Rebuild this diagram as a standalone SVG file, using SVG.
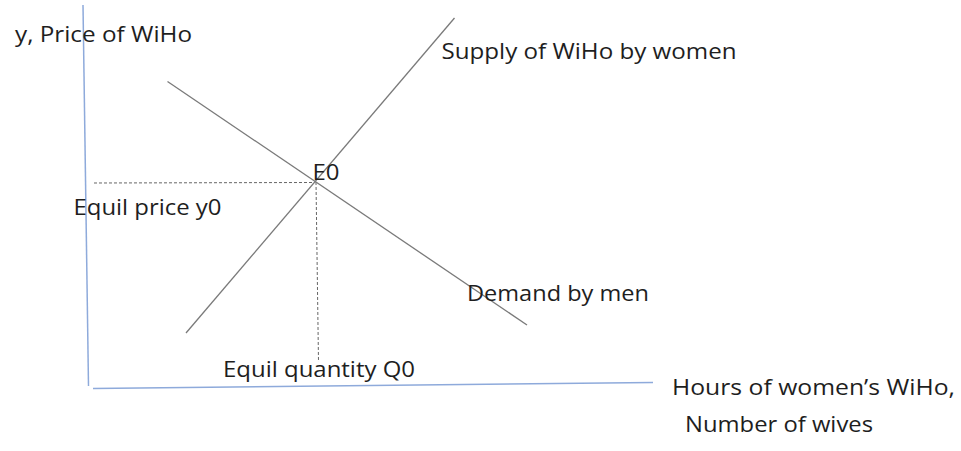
<svg xmlns="http://www.w3.org/2000/svg" width="961" height="451" viewBox="0 0 961 451">
<style>
.axis{stroke:#8eaadb;stroke-width:1.5;fill:none}
.curve{stroke:#7a7a7a;stroke-width:1.3;fill:none}
.dash{stroke:#666;stroke-width:1;stroke-dasharray:3 2;fill:none}
text{font-family:"Open Sans","DejaVu Sans",sans-serif;font-size:22px;fill:#1e1e1e}
</style>
<rect width="961" height="451" fill="#fff"/>
<g id="connectors">
<line class="axis" x1="83" y1="5" x2="88.5" y2="386"/>
<line class="axis" x1="93" y1="388.5" x2="653" y2="382.5"/>
<line class="dash" x1="94" y1="183" x2="312" y2="182.5"/>
<line class="dash" x1="316" y1="182" x2="318.5" y2="362"/>
</g>
<g id="supply">
<line class="curve" x1="186" y1="333" x2="454.5" y2="18"/>
<text x="441.5" y="59" textLength="295" lengthAdjust="spacingAndGlyphs">Supply of WiHo by women</text>
</g>
<g id="demand">
<line class="curve" x1="167.5" y1="81.5" x2="527" y2="325"/>
<text x="467" y="301" textLength="182" lengthAdjust="spacingAndGlyphs">Demand by men</text>
</g>
<g id="e0">
<text x="312.5" y="180" textLength="27" lengthAdjust="spacingAndGlyphs">E0</text>
</g>
<g id="y-label">
<text x="15" y="41.5" textLength="177" lengthAdjust="spacingAndGlyphs">y, Price of WiHo</text>
</g>
<g id="price-label">
<text x="73.5" y="215" textLength="148" lengthAdjust="spacingAndGlyphs">Equil price y0</text>
</g>
<g id="quantity-label">
<text x="223" y="377" textLength="192" lengthAdjust="spacingAndGlyphs">Equil quantity Q0</text>
</g>
<g id="x-label">
<text x="672" y="395" textLength="283" lengthAdjust="spacingAndGlyphs">Hours of women’s WiHo,</text>
<text x="685" y="432" textLength="188" lengthAdjust="spacingAndGlyphs">Number of wives</text>
</g>
</svg>
